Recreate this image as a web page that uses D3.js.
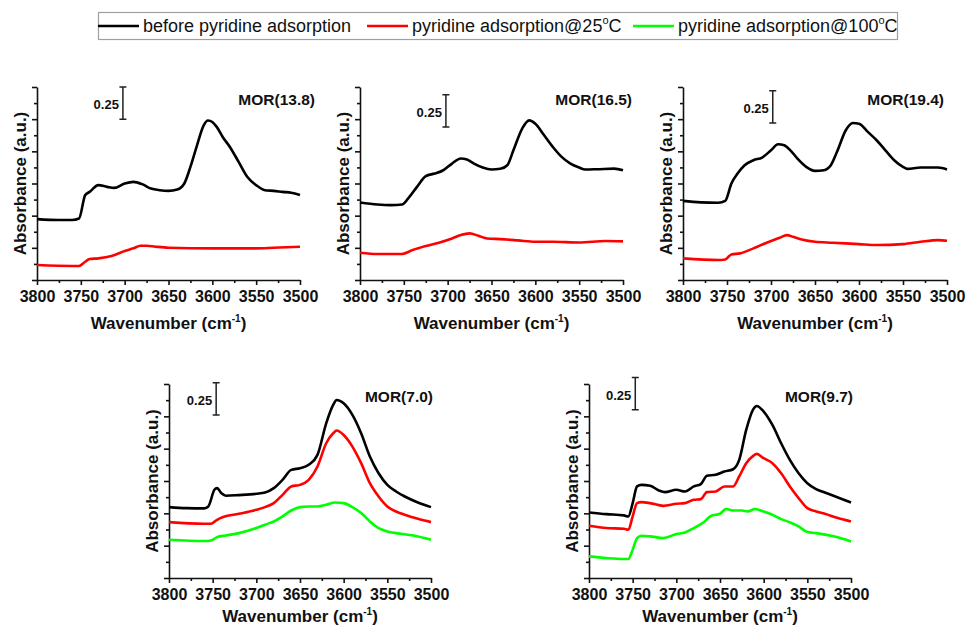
<!DOCTYPE html>
<html>
<head>
<meta charset="utf-8">
<script src="https://cdn.jsdelivr.net/npm/d3@7/dist/d3.min.js"></script>
<style>
  body { margin: 0; background: #fff; }
  svg { font-family: Arial, "Liberation Sans", sans-serif; }
</style>
</head>
<body>
<div id="chart"></div>
<script>
// series labels / colours
const seriesNames = ['before pyridine adsorption', 'pyridine adsorption@25', 'pyridine adsorption@100']
const seriesColors = ['#000000', '#ff0000', '#00ff00']

const xTicks = [3800, 3750, 3700, 3650, 3600, 3550, 3500]
const xMinorTicks = [3775, 3725, 3675, 3625, 3575, 3525]
const yTicks = [0, 0.25, 0.5, 0.75, 1.0, 1.25, 1.5]
const yMinorTicks = [0.125, 0.375, 0.625, 0.875, 1.125, 1.375]

// [wavenumber, absorbance]
const mor138Before = [[3800, 0.473], [3775, 0.466], [3760, 0.466], [3752, 0.478], [3745, 0.66], [3740, 0.685], [3730, 0.737], [3720, 0.724], [3712, 0.716], [3700, 0.75], [3690, 0.763], [3680, 0.745], [3670, 0.711], [3660, 0.698], [3650, 0.693], [3640, 0.703], [3632, 0.75], [3625, 0.879], [3618, 1.034], [3610, 1.2], [3605, 1.24], [3600, 1.228], [3595, 1.19], [3588, 1.11], [3580, 1.034], [3570, 0.918], [3560, 0.8], [3550, 0.737], [3540, 0.698], [3530, 0.693], [3520, 0.685], [3510, 0.678], [3500, 0.66]]
const mor138Py25 = [[3800, 0.116], [3760, 0.109], [3752, 0.109], [3745, 0.142], [3740, 0.163], [3730, 0.168], [3715, 0.186], [3700, 0.225], [3690, 0.246], [3682, 0.266], [3675, 0.266], [3665, 0.259], [3650, 0.251], [3600, 0.246], [3550, 0.246], [3530, 0.251], [3500, 0.259]]

const mor165Before = [[3800, 0.603], [3780, 0.587], [3765, 0.582], [3752, 0.587], [3745, 0.634], [3735, 0.724], [3725, 0.807], [3715, 0.827], [3705, 0.853], [3695, 0.905], [3685, 0.944], [3678, 0.936], [3670, 0.905], [3660, 0.874], [3650, 0.859], [3640, 0.864], [3632, 0.892], [3625, 1.008], [3615, 1.177], [3607, 1.241], [3600, 1.215], [3590, 1.125], [3580, 1.034], [3570, 0.957], [3560, 0.905], [3550, 0.874], [3543, 0.859], [3530, 0.861], [3510, 0.866], [3500, 0.853]]
const mor165Py25 = [[3800, 0.212], [3780, 0.202], [3752, 0.202], [3740, 0.233], [3725, 0.264], [3710, 0.29], [3695, 0.323], [3685, 0.349], [3675, 0.362], [3665, 0.344], [3655, 0.323], [3640, 0.318], [3620, 0.308], [3600, 0.297], [3580, 0.297], [3550, 0.292], [3520, 0.303], [3500, 0.3]]

const mor194Before = [[3800, 0.615], [3780, 0.603], [3760, 0.6], [3752, 0.615], [3745, 0.75], [3738, 0.827], [3730, 0.892], [3720, 0.931], [3710, 0.952], [3700, 1.008], [3692, 1.055], [3685, 1.047], [3678, 1.008], [3670, 0.944], [3660, 0.879], [3650, 0.848], [3640, 0.853], [3632, 0.892], [3625, 0.996], [3615, 1.164], [3607, 1.22], [3600, 1.215], [3590, 1.151], [3580, 1.086], [3570, 1.008], [3560, 0.931], [3550, 0.879], [3545, 0.864], [3530, 0.874], [3510, 0.874], [3500, 0.859]]
const mor194Py25 = [[3800, 0.168], [3760, 0.155], [3752, 0.16], [3745, 0.199], [3735, 0.207], [3720, 0.246], [3705, 0.29], [3690, 0.328], [3682, 0.349], [3675, 0.336], [3665, 0.315], [3650, 0.297], [3630, 0.29], [3600, 0.279], [3580, 0.272], [3550, 0.279], [3530, 0.297], [3510, 0.31], [3500, 0.305]]

const mor70Before = [[3800, 0.548], [3780, 0.54], [3760, 0.538], [3755, 0.553], [3748, 0.682], [3745, 0.695], [3740, 0.656], [3735, 0.636], [3720, 0.641], [3700, 0.651], [3690, 0.661], [3680, 0.695], [3670, 0.759], [3660, 0.836], [3650, 0.849], [3640, 0.875], [3630, 0.952], [3620, 1.196], [3612, 1.338], [3608, 1.376], [3600, 1.351], [3590, 1.261], [3580, 1.119], [3570, 0.939], [3560, 0.81], [3550, 0.72], [3540, 0.669], [3530, 0.63], [3515, 0.584], [3500, 0.548]]
const mor70Py25 = [[3800, 0.432], [3760, 0.419], [3752, 0.419], [3745, 0.45], [3738, 0.471], [3720, 0.496], [3700, 0.527], [3690, 0.548], [3680, 0.579], [3670, 0.643], [3660, 0.708], [3650, 0.72], [3640, 0.759], [3630, 0.862], [3620, 1.042], [3612, 1.119], [3608, 1.14], [3600, 1.106], [3590, 1.016], [3580, 0.888], [3570, 0.733], [3560, 0.63], [3550, 0.553], [3540, 0.514], [3530, 0.489], [3515, 0.458], [3500, 0.432]]
const mor70Py100 = [[3800, 0.296], [3760, 0.286], [3752, 0.29], [3745, 0.316], [3735, 0.329], [3720, 0.347], [3700, 0.386], [3690, 0.412], [3680, 0.437], [3670, 0.476], [3660, 0.522], [3650, 0.548], [3640, 0.553], [3630, 0.553], [3620, 0.566], [3610, 0.584], [3600, 0.579], [3590, 0.548], [3580, 0.502], [3570, 0.437], [3560, 0.386], [3550, 0.36], [3540, 0.347], [3520, 0.329], [3500, 0.296]]

const mor97Before = [[3800, 0.507], [3780, 0.494], [3760, 0.484], [3755, 0.476], [3750, 0.579], [3745, 0.708], [3740, 0.72], [3730, 0.713], [3720, 0.677], [3713, 0.664], [3700, 0.682], [3690, 0.669], [3680, 0.708], [3672, 0.726], [3665, 0.79], [3655, 0.798], [3645, 0.823], [3635, 0.841], [3628, 0.913], [3620, 1.145], [3612, 1.304], [3608, 1.33], [3600, 1.287], [3590, 1.184], [3580, 1.042], [3570, 0.913], [3560, 0.81], [3550, 0.733], [3540, 0.687], [3530, 0.661], [3515, 0.623], [3500, 0.584]]
const mor97Py25 = [[3800, 0.404], [3780, 0.386], [3760, 0.381], [3755, 0.373], [3750, 0.476], [3745, 0.579], [3740, 0.587], [3730, 0.579], [3715, 0.558], [3700, 0.574], [3690, 0.579], [3680, 0.605], [3672, 0.61], [3665, 0.664], [3655, 0.669], [3645, 0.708], [3635, 0.708], [3628, 0.785], [3620, 0.888], [3612, 0.944], [3608, 0.96], [3600, 0.926], [3590, 0.888], [3580, 0.81], [3570, 0.708], [3560, 0.618], [3550, 0.54], [3540, 0.515], [3530, 0.497], [3515, 0.463], [3500, 0.437]]
const mor97Py100 = [[3800, 0.167], [3780, 0.154], [3760, 0.147], [3755, 0.147], [3750, 0.219], [3745, 0.309], [3740, 0.327], [3730, 0.322], [3715, 0.309], [3700, 0.34], [3690, 0.352], [3680, 0.386], [3670, 0.425], [3660, 0.481], [3650, 0.497], [3643, 0.533], [3635, 0.522], [3625, 0.522], [3618, 0.515], [3610, 0.533], [3600, 0.515], [3590, 0.489], [3580, 0.455], [3570, 0.43], [3560, 0.399], [3550, 0.355], [3540, 0.347], [3520, 0.322], [3500, 0.283]]

// panel layout (pixels) and the scale bar anchor (wavenumber, top absorbance)
const panels = [
  { title: 'MOR(13.8)', series: [mor138Before, mor138Py25], left: 37, right: 300, top: 87, bottom: 280, titleX: 315, barWn: 3702, barTop: 1.5, xlabDy: 49 },
  { title: 'MOR(16.5)', series: [mor165Before, mor165Py25], left: 360, right: 623, top: 87, bottom: 280, titleX: 632, barWn: 3702, barTop: 1.44, xlabDy: 49 },
  { title: 'MOR(19.4)', series: [mor194Before, mor194Py25], left: 683, right: 947, top: 87, bottom: 280, titleX: 944, barWn: 3698, barTop: 1.47, xlabDy: 49 },
  { title: 'MOR(7.0)', series: [mor70Before, mor70Py25, mor70Py100], left: 169, right: 431, top: 384, bottom: 578, titleX: 433, barWn: 3746, barTop: 1.51, xlabDy: 44 },
  { title: 'MOR(9.7)', series: [mor97Before, mor97Py25, mor97Py100], left: 589, right: 851, top: 384, bottom: 578, titleX: 853, barWn: 3747, barTop: 1.55, xlabDy: 44 }
]

const width = 965
const height = 628

const svg = d3.select('#chart')
  .append('svg')
  .attr('width', width)
  .attr('height', height)

// legend
const legend = svg.append('g')
legend.append('rect')
  .attr('x', 98.5).attr('y', 12.5)
  .attr('width', 799).attr('height', 27)
  .attr('fill', '#fff')
  .attr('stroke', '#a0a0a0')
  .attr('stroke-width', 1.2)
const legendX = [98, 367, 633]
seriesNames.forEach((name, i) => {
  const lx = legendX[i]
  legend.append('line')
    .attr('x1', lx).attr('x2', lx + 41)
    .attr('y1', 26).attr('y2', 26)
    .attr('stroke', seriesColors[i])
    .attr('stroke-width', 2.5)
  const t = legend.append('text')
    .attr('x', lx + 45).attr('y', 32)
    .attr('font-size', 18)
    .attr('fill', '#111')
    .text(name)
  if (i > 0) {
    t.append('tspan').attr('font-size', 11).attr('dy', -8).text('o')
    t.append('tspan').attr('dy', 8).text('C')
  }
})

panels.forEach(p => {
  const x = d3.scaleLinear().domain([3800, 3500]).range([p.left, p.right])
  const y = d3.scaleLinear().domain([0, 1.5]).range([p.bottom, p.top])
  const g = svg.append('g')

  // x axis: major + minor
  const xAxis = g.append('g')
    .attr('transform', `translate(0,${p.bottom})`)
    .call(d3.axisBottom(x).tickValues(xTicks).tickSize(5).tickSizeOuter(0).tickFormat(d3.format('d')))
  xAxis.selectAll('text')
    .attr('font-size', 16).attr('font-weight', 'bold').attr('fill', '#111')
    .attr('dy', '0.9em')
  g.append('g')
    .attr('transform', `translate(0,${p.bottom})`)
    .call(d3.axisBottom(x).tickValues(xMinorTicks).tickSize(3).tickFormat(''))
    .select('.domain').remove()

  // y axis, no labels
  g.append('g')
    .attr('transform', `translate(${p.left},0)`)
    .call(d3.axisLeft(y).tickValues(yTicks).tickSize(5).tickSizeOuter(0).tickFormat(''))
  g.append('g')
    .attr('transform', `translate(${p.left},0)`)
    .call(d3.axisLeft(y).tickValues(yMinorTicks).tickSize(3).tickFormat(''))
    .select('.domain').remove()

  g.selectAll('.domain, .tick line')
    .attr('stroke', '#111')
    .attr('stroke-width', 1.6)

  // spectra
  const line = d3.line()
    .x(d => x(d[0]))
    .y(d => y(d[1]))
    .curve(d3.curveMonotoneX)
  p.series.forEach((s, i) => {
    g.append('path')
      .datum(s)
      .attr('fill', 'none')
      .attr('stroke', seriesColors[i])
      .attr('stroke-width', 2.6)
      .attr('stroke-linejoin', 'round')
      .attr('d', line)
  })

  // scale bar
  const bx = x(p.barWn)
  const by1 = y(p.barTop)
  const by2 = y(p.barTop - 0.25)
  g.append('path')
    .attr('d', `M${bx - 3.5},${by1}H${bx + 3.5}M${bx},${by1}V${by2}M${bx - 3.5},${by2}H${bx + 3.5}`)
    .attr('stroke', '#222')
    .attr('stroke-width', 1.5)
    .attr('fill', 'none')
  g.append('text')
    .attr('x', bx - 4).attr('y', (by1 + by2) / 2 + 6)
    .attr('text-anchor', 'end')
    .attr('font-size', 13).attr('font-weight', 'bold')
    .attr('fill', '#111')
    .text('0.25')

  // title
  g.append('text')
    .attr('x', p.titleX).attr('y', p.top + 18)
    .attr('text-anchor', 'end')
    .attr('font-size', 15.5).attr('font-weight', 'bold')
    .attr('fill', '#111')
    .text(p.title)

  // axis titles
  const xl = g.append('text')
    .attr('x', (p.left + p.right) / 2).attr('y', p.bottom + p.xlabDy)
    .attr('text-anchor', 'middle')
    .attr('font-size', 17).attr('font-weight', 'bold')
    .attr('fill', '#111')
    .text('Wavenumber (cm')
  xl.append('tspan').attr('font-size', 10).attr('dy', -7).text('-1')
  xl.append('tspan').attr('dy', 7).text(')')

  g.append('text')
    .attr('transform', `translate(${p.left - 11},${(p.top + p.bottom) / 2}) rotate(-90)`)
    .attr('text-anchor', 'middle')
    .attr('font-size', 17).attr('font-weight', 'bold')
    .attr('fill', '#111')
    .text('Absorbance (a.u.)')
})
</script>
</body>
</html>
